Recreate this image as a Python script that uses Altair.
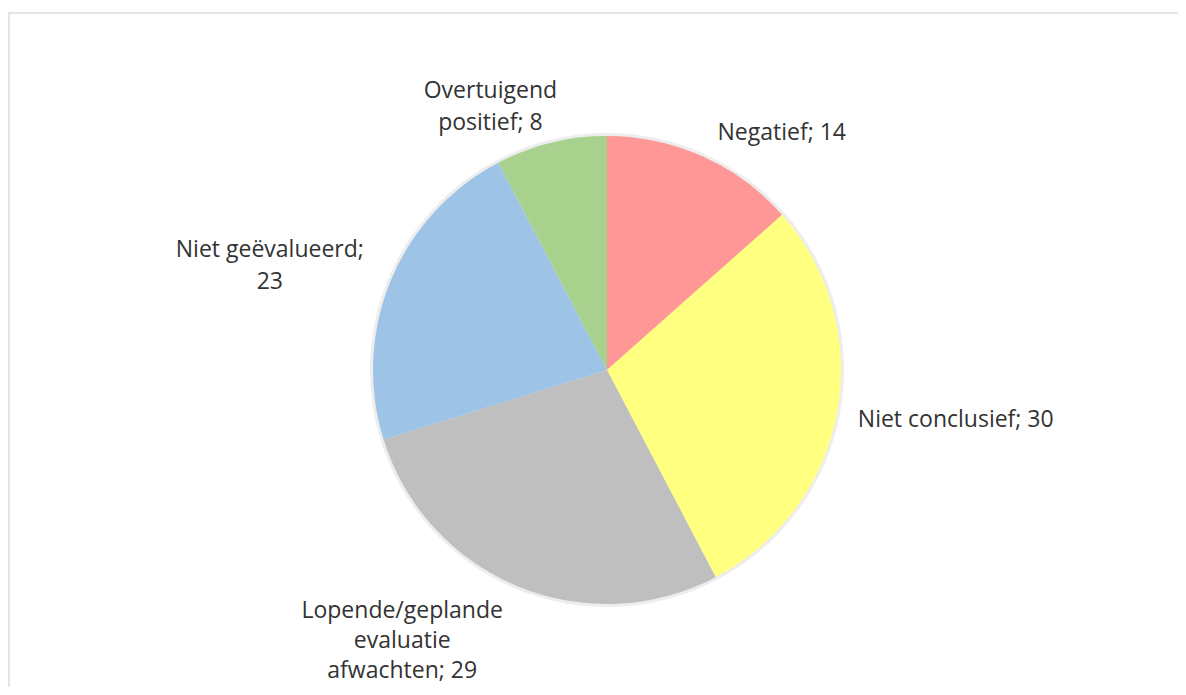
import altair as alt
import pandas as pd

categories = ["Negatief", "Niet conclusief", "Lopende/geplande evaluatie afwachten",
              "Niet geëvalueerd", "Overtuigend positief"]
values = [14, 30, 29, 23, 8]
labels = ["Negatief;  14", "Niet conclusief; 30", "Lopende/geplande\nevaluatie\nafwachten; 29",
          "Niet geëvalueerd;\n23", "Overtuigend\npositief; 8"]
colors = ["#FF9797", "#FFFF80", "#BFBFBF", "#9DC3E6", "#A9D18E"]

df = pd.DataFrame({"cat": categories, "val": values, "label": labels,
                   "idx": list(range(len(categories)))})

W, H = 1000, 600
PL, PT = 99, 62

# soft halo imitating the shadow around the pie
shadow = alt.Chart(df).mark_arc(radius=237, strokeWidth=0, color="#000000", opacity=0.07).encode(
    theta=alt.Theta("val:Q", stack=True),
    order=alt.Order("idx:O"),
)

pie = alt.Chart(df).mark_arc(radius=234, strokeWidth=0).encode(
    theta=alt.Theta("val:Q", stack=True),
    order=alt.Order("idx:O"),
    color=alt.Color("cat:N", scale=alt.Scale(domain=categories, range=colors), legend=None),
)

FONT = "Open Sans"
TXT = "#333333"
FS = 23


def lab(cat, radius, dx, dy, align="center", lh=32):
    return alt.Chart(df).transform_stack(
        stack="val", groupby=[], as_=["s0", "s1"], sort=[alt.SortField("idx")]
    ).transform_calculate(
        mid="(datum.s0 + datum.s1) / 2"
    ).transform_filter(alt.datum.cat == cat).mark_text(
        radius=radius, dx=dx, dy=dy, align=align, baseline="middle",
        font=FONT, fontSize=FS, color=TXT, lineBreak="\n", lineHeight=lh,
    ).encode(
        theta=alt.Theta("mid:Q", scale=alt.Scale(domain=[0, sum(values)])),
        text="label:N",
    )


frame = alt.Chart(alt.Data(values=[{}])).mark_rect(
    fillOpacity=0, stroke="#dddddd", strokeWidth=1.5
).encode(x=alt.value(9 - 8 - PL), y=alt.value(13 - 8 - PT),
         x2=alt.value(1300), y2=alt.value(900))

chart = alt.layer(
    frame,
    shadow,
    pie,
    lab("Negatief", 260, 68, 0),
    lab("Niet conclusief", 255, 0, 4, "left"),
    lab("Lopende/geplande evaluatie afwachten", 300, -90, -36, lh=30),
    lab("Niet geëvalueerd", 300, -60, -5),
    lab("Overtuigend positief", 270, -52, -17),
).resolve_scale(theta="independent").properties(
    width=W, height=H,
    background="#ffffff",
    autosize=alt.AutoSizeParams(type="none"),
    padding={"left": PL, "top": PT, "right": 1170 - W - PL, "bottom": 679 - H - PT},
).configure_view(strokeWidth=0)

chart.save("out.html", embed_options={"renderer": "svg", "actions": False})
